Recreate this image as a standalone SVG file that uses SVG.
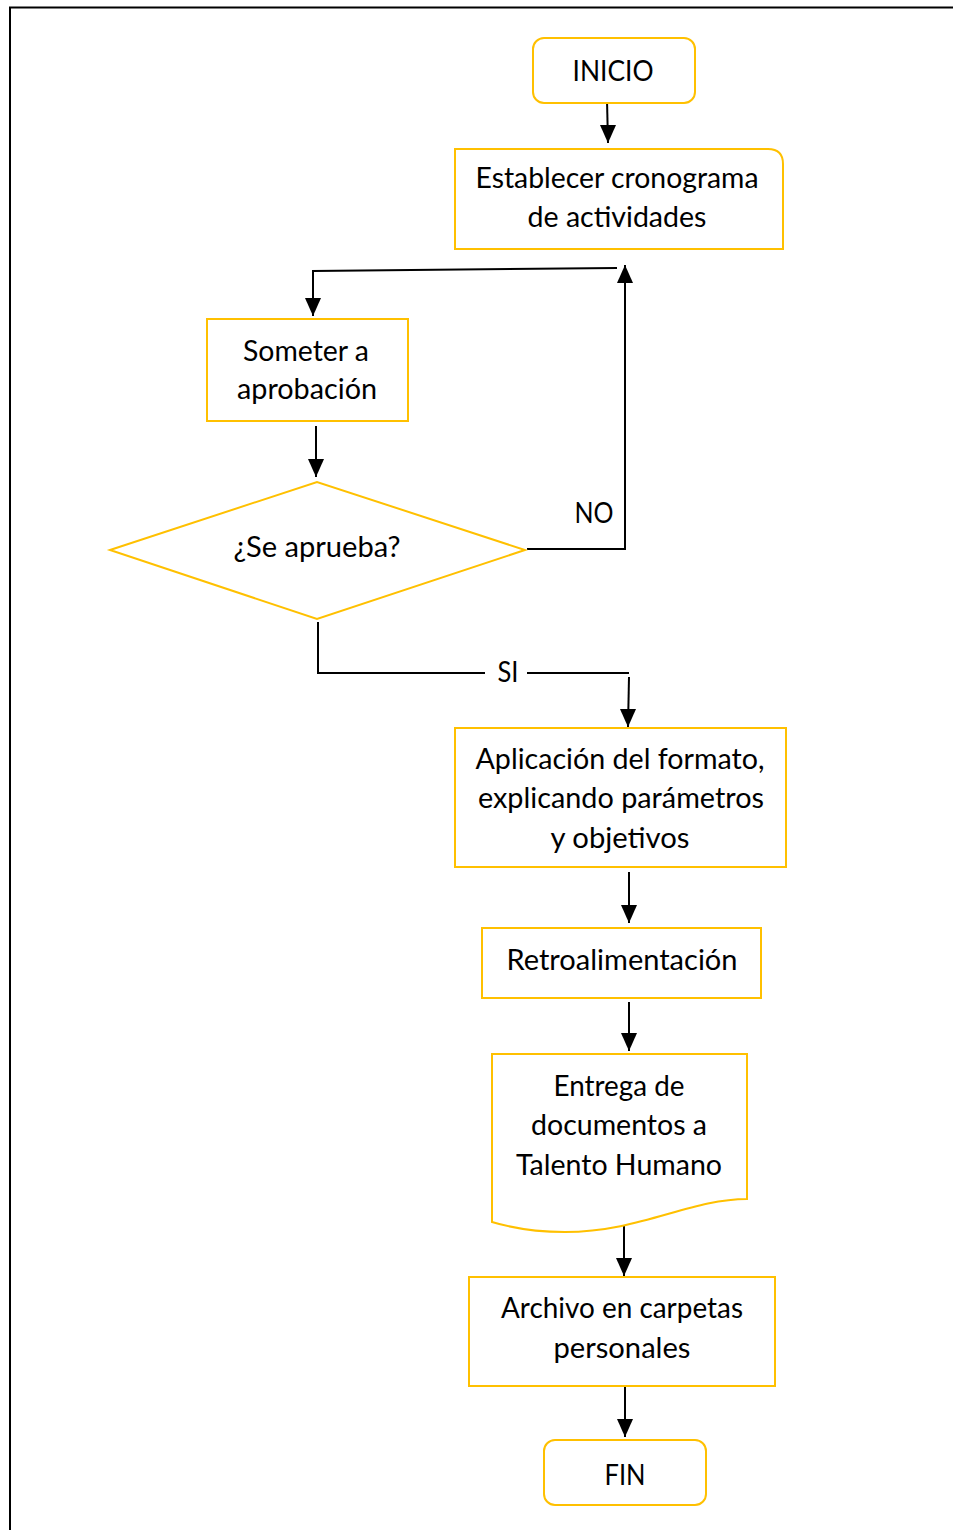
<svg xmlns="http://www.w3.org/2000/svg" width="953" height="1530" viewBox="0 0 953 1530">
<defs>
<style>
.n{fill:#fff;stroke:#FFC000;stroke-width:2}
.t{font-family:Lato,"Liberation Sans",sans-serif;font-size:28px;fill:#000;text-anchor:middle}
.c{fill:none;stroke:#000;stroke-width:2}
</style>
<marker id="ah" markerUnits="userSpaceOnUse" markerWidth="16" markerHeight="18" refX="8" refY="17" orient="auto-start-reverse" viewBox="0 0 16 18">
<path d="M0,0 L16,0 L8,18 Z" fill="#000" transform="rotate(0)"/>
</marker>
<marker id="down" markerUnits="userSpaceOnUse" markerWidth="16" markerHeight="18" refX="8" refY="18" orient="0" viewBox="0 0 16 18">
<path d="M0,0 L16,0 L8,18 Z" fill="#000"/>
</marker>
<marker id="up" markerUnits="userSpaceOnUse" markerWidth="16" markerHeight="18" refX="8" refY="0" orient="0" viewBox="0 0 16 18">
<path d="M0,18 L16,18 L8,0 Z" fill="#000"/>
</marker>
</defs>
<rect width="953" height="1530" fill="#fff"/>
<path d="M10,1530 V7.5 H953" fill="none" stroke="#000" stroke-width="2"/>

<g id="connectors">
<path class="c" d="M607,100 L608,143" marker-end="url(#down)"/>
<path class="c" d="M617,268 L313,271 L313,316" marker-end="url(#down)"/>
<path class="c" d="M316,426 L316,477" marker-end="url(#down)"/>
<path class="c" d="M527,549 L625,549 L625,265" marker-end="url(#up)"/>
<path class="c" d="M318,622 L318,673 L485,673"/>
<path class="c" d="M527,673 L629,673"/>
<path class="c" d="M629,677 L628,727" marker-end="url(#down)"/>
<path class="c" d="M629,872 L629,923" marker-end="url(#down)"/>
<path class="c" d="M629,1002 L629,1051" marker-end="url(#down)"/>
<path class="c" d="M624,1225 L624,1276" marker-end="url(#down)"/>
<path class="c" d="M625,1386 L625,1437" marker-end="url(#down)"/>
<text class="t" x="594" y="523" textLength="39" lengthAdjust="spacingAndGlyphs">NO</text>
<text class="t" x="508" y="682" textLength="21" lengthAdjust="spacingAndGlyphs">SI</text>
</g>

<g id="inicio">
<rect class="n" x="533" y="38" width="162" height="65" rx="11"/>
<text class="t" x="613" y="81" textLength="81" lengthAdjust="spacingAndGlyphs">INICIO</text>
</g>

<g id="establecer">
<path class="n" d="M455,149 H768 Q783,149 783,164 V249 H455 Z"/>
<text class="t" x="617" y="188" textLength="283" lengthAdjust="spacingAndGlyphs">Establecer cronograma</text>
<text class="t" x="617" y="227" textLength="179" lengthAdjust="spacingAndGlyphs">de actividades</text>
</g>

<g id="someter">
<rect class="n" x="207" y="319" width="201" height="102"/>
<text class="t" x="306" y="361" textLength="126" lengthAdjust="spacingAndGlyphs">Someter a</text>
<text class="t" x="307" y="399" textLength="140" lengthAdjust="spacingAndGlyphs">aprobación</text>
</g>

<g id="decision">
<polygon class="n" points="110,550 317,482 525,550 317,619"/>
<text class="t" x="317" y="557" textLength="167" lengthAdjust="spacingAndGlyphs">¿Se aprueba?</text>
</g>

<g id="aplicacion">
<rect class="n" x="455" y="728" width="331" height="139"/>
<text class="t" x="620" y="769" textLength="289" lengthAdjust="spacingAndGlyphs">Aplicación del formato,</text>
<text class="t" x="621" y="808" textLength="286" lengthAdjust="spacingAndGlyphs">explicando parámetros</text>
<text class="t" x="620" y="848" textLength="139" lengthAdjust="spacingAndGlyphs">y objetivos</text>
</g>

<g id="retro">
<rect class="n" x="482" y="928" width="279" height="70"/>
<text class="t" x="622" y="970" textLength="231" lengthAdjust="spacingAndGlyphs">Retroalimentación</text>
</g>

<g id="entrega">
<path class="n" d="M492,1054 H747 V1199 C690,1199 640,1232 565,1232 C535,1232 512,1228 492,1222 Z"/>
<text class="t" x="619" y="1096" textLength="131" lengthAdjust="spacingAndGlyphs">Entrega de</text>
<text class="t" x="619" y="1135" textLength="176" lengthAdjust="spacingAndGlyphs">documentos a</text>
<text class="t" x="619" y="1175" textLength="206" lengthAdjust="spacingAndGlyphs">Talento Humano</text>
</g>

<g id="archivo">
<rect class="n" x="469" y="1277" width="306" height="109"/>
<text class="t" x="622" y="1318" textLength="242" lengthAdjust="spacingAndGlyphs">Archivo en carpetas</text>
<text class="t" x="622" y="1358" textLength="137" lengthAdjust="spacingAndGlyphs">personales</text>
</g>

<g id="fin">
<rect class="n" x="544" y="1440" width="162" height="65" rx="11"/>
<text class="t" x="625" y="1485" textLength="41" lengthAdjust="spacingAndGlyphs">FIN</text>
</g>
</svg>
